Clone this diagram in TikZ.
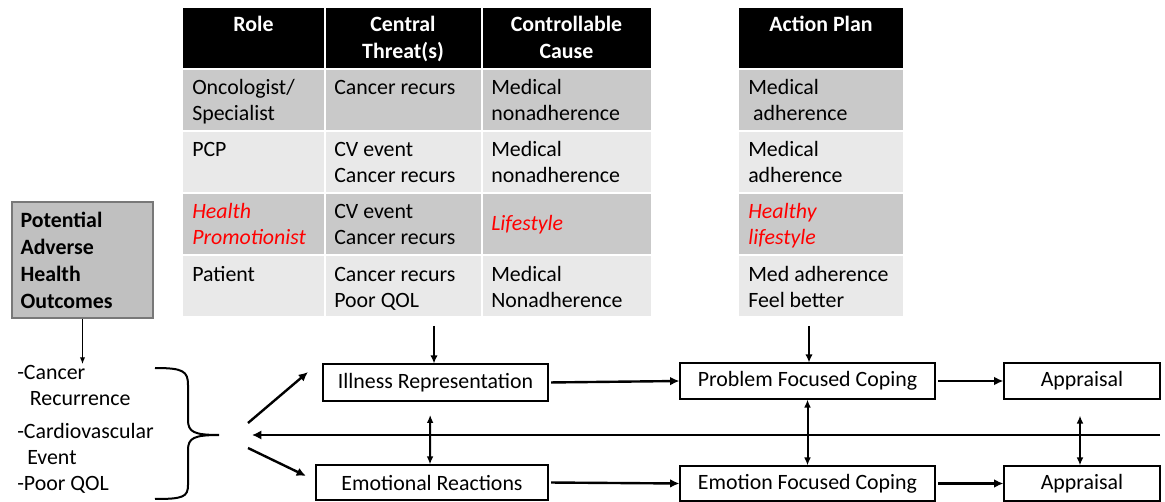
\documentclass[tikz,border=0pt]{standalone}
\usepackage{fontspec}
\setmainfont{Carlito}
\usepackage{tikz}
\usetikzlibrary{arrows.meta}

\definecolor{darkrow}{RGB}{201,201,201}
\definecolor{lightrow}{RGB}{233,233,233}
\definecolor{outcomefill}{RGB}{192,192,192}
\definecolor{outcomeline}{RGB}{120,120,120}
\definecolor{promo}{RGB}{255,0,0}

% lines stacked from the baseline of the first one
\newcommand{\leftrows}[1]{\begin{tabular}[t]{@{}l@{}}#1\end{tabular}}
\newcommand{\midrows}[1]{\begin{tabular}[t]{@{}c@{}}#1\end{tabular}}

\tikzset{
  celltext/.style={anchor=base west, inner sep=0pt, font=\fontsize{16.4}{19.5}\selectfont},
  headtext/.style={anchor=base, inner sep=0pt, text=white, font=\fontsize{16.4}{20.2}\selectfont\bfseries},
  redcell/.style={celltext, text=promo, font=\fontsize{16.4}{19.5}\selectfont\itshape},
  stagebox/.style={draw, line width=0.8pt, inner sep=0pt, font=\fontsize{16.4}{19.5}\selectfont},
  flow/.style={line width=1.8pt, -{Latex[length=7pt,width=6.5pt]}},
  downflow/.style={line width=1.5pt, -{Latex[length=6pt,width=5.5pt]}},
  twoway/.style={line width=1.5pt, {Latex[length=6pt,width=5pt]}-{Latex[length=6pt,width=5pt]}},
}

\begin{document}
\begin{tikzpicture}[x=0.75pt,y=0.75pt,yscale=-1,xscale=1]
\useasboundingbox (0,0) rectangle (1165,502);

%Table: fills
\fill[black] (183,8) rectangle (651,68);
\fill[darkrow] (183,70) rectangle (651,130);
\fill[lightrow] (183,132) rectangle (651,192);
\fill[darkrow] (183,194) rectangle (651,254);
\fill[lightrow] (183,256) rectangle (651,316);
%Table: white rules between columns
\draw[white, line width=1.5pt] (324.5,8) -- (324.5,316);
\draw[white, line width=1.5pt] (481.5,8) -- (481.5,316);

%Action plan column: fills
\fill[black] (739,8) rectangle (903,68);
\fill[darkrow] (739,70) rectangle (903,130);
\fill[lightrow] (739,132) rectangle (903,192);
\fill[darkrow] (739,194) rectangle (903,254);
\fill[lightrow] (739,256) rectangle (903,316);

% Header Nodes
\node[headtext] (rolehead) at (253.5,32) {Role};
\node[headtext] (threathead) at (403,32) {\midrows{Central\\Threat(s)}};
\node[headtext] (causehead) at (566.5,32) {\midrows{Controllable\\Cause}};
\node[headtext] (planhead) at (821,32) {Action Plan};

% Text Node
\node[celltext] (role1) at (192,95) {\leftrows{Oncologist/\\Specialist}};
\node[celltext] (threat1) at (334,95) {Cancer recurs};
\node[celltext] (cause1) at (491,95) {\leftrows{Medical\\nonadherence}};
\node[celltext] (plan1) at (748,95) {\leftrows{Medical\\\ adherence}};
% Text Node
\node[celltext] (role2) at (192,157) {PCP};
\node[celltext] (threat2) at (334,157) {\leftrows{CV event\\Cancer recurs}};
\node[celltext] (cause2) at (491,157) {\leftrows{Medical\\nonadherence}};
\node[celltext] (plan2) at (748,157) {\leftrows{Medical\\adherence}};
% Text Node
\node[redcell] (role3) at (192,219) {\leftrows{Health\\Promotionist}};
\node[celltext] (threat3) at (334,219) {\leftrows{CV event\\Cancer recurs}};
\node[redcell] (cause3) at (491,231) {Lifestyle};
\node[redcell] (plan3) at (748,219) {\leftrows{Healthy\\lifestyle}};
% Text Node
\node[celltext] (role4) at (192,282) {Patient};
\node[celltext] (threat4) at (334,282) {\leftrows{Cancer recurs\\Poor QOL}};
\node[celltext] (cause4) at (491,282) {\leftrows{Medical\\Nonadherence}};
\node[celltext] (plan4) at (748,282) {\leftrows{Med adherence\\Feel better}};

%Outcomes box
\node[draw=outcomeline, fill=outcomefill, line width=0.8pt, minimum width=105.75pt, minimum height=87pt,
      text width=93pt, inner sep=0pt, align=left, font=\fontsize{16.4}{20.2}\selectfont\bfseries]
      (potential) at (82.5,260) {Potential\\Adverse\\Health\\Outcomes};
% Text Node
\node[celltext] (outcomes) at (17,380)
  {\leftrows{-Cancer\\\hspace*{9.5pt}Recurrence\\[5pt]-Cardiovascular\\\hspace*{7.5pt}Event\\-Poor QOL}};
%Straight Lines
\draw[line width=0.8pt, -{Latex[length=5pt,width=4pt]}] (potential.south) -- (potential.south |- 0,364);

%Brace
\draw[line width=1.5pt] (155,368) .. controls (183,368) and (188,371) .. (188,385) -- (188,420) .. controls (188,432) and (194,435) .. (219,435)
  .. controls (194,435) and (188,438) .. (188,450) -- (188,485) .. controls (188,497) and (183,499) .. (155,499);

% Stage boxes
\node[stagebox, minimum width=168.75pt, minimum height=27.75pt] (illness) at (435.5,382.5) {Illness Representation};
\node[stagebox, minimum width=174pt, minimum height=26.25pt] (emotional) at (432,482.5) {Emotional Reactions};
\node[stagebox, minimum width=191.25pt, minimum height=27pt] (problem) at (807.5,381) {Problem Focused Coping};
\node[stagebox, minimum width=191.25pt, minimum height=26.25pt] (emotionfc) at (807.5,483.5) {Emotion Focused Coping};
\node[stagebox, minimum width=117pt, minimum height=27pt] (appraisal1) at (1082,381) {Appraisal};
\node[stagebox, minimum width=117pt, minimum height=26.25pt] (appraisal2) at (1082,483.5) {Appraisal};

\coordinate (tablefoot) at (434,326);
\coordinate (planfoot) at (809,326);
\coordinate (fork1) at (248,423);
\coordinate (fork2) at (248,448);
\coordinate (feedstart) at (1160,435);
\coordinate (feedend) at (252,435);

%Straight Lines
\draw[downflow] (tablefoot) -- (tablefoot |- illness.north);
\draw[downflow] (planfoot) -- (planfoot |- problem.north);
\draw[flow] (fork1) -- (308,372);
\draw[flow] (fork2) -- (306,476);
\draw[line width=2.2pt, -{Latex[length=7pt,width=7pt]}] (feedstart) -- (feedend);
%Straight Lines
\draw[flow, shorten <=2pt] (illness.east) -- (problem.west);
\draw[flow, shorten <=2pt] (problem.east) -- (appraisal1.west);
\draw[flow, shorten <=2pt] (emotional.east) -- (emotionfc.west);
\draw[flow, shorten <=2pt] (emotionfc.east) -- (appraisal2.west);
%Straight Lines
\draw[twoway] ([xshift=-4pt, yshift=10pt]illness.south) -- ([xshift=-1.5pt]emotional.north);
\draw[twoway] (problem.south) -- (emotionfc.north);
\draw[twoway] ([xshift=-1.5pt, yshift=12pt]appraisal1.south) -- ([xshift=-1.5pt]appraisal2.north);
\end{tikzpicture}
\end{document}
